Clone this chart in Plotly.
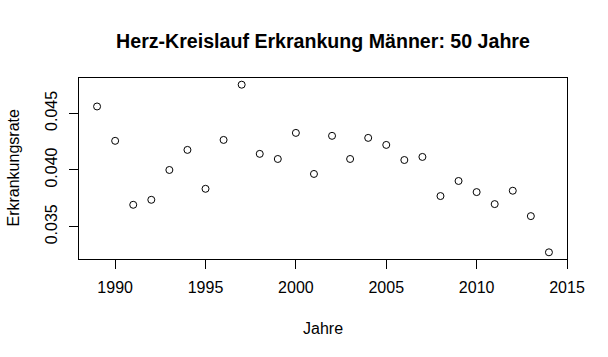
import plotly.graph_objects as go

jahre = list(range(1989, 2015))
rate = [0.0456, 0.04257, 0.03693, 0.03737, 0.0400, 0.04177, 0.03834, 0.04265,
        0.04752, 0.04142, 0.04097, 0.04327, 0.03965, 0.04301, 0.04097, 0.04283,
        0.04221, 0.04088, 0.04115, 0.0377, 0.03903, 0.03805, 0.03699, 0.03817,
        0.03593, 0.03274]
x_ticks = [1990, 1995, 2000, 2005, 2010, 2015]
y_ticks = [0.035, 0.040, 0.045]
y_ticklabels = ["0.035", "0.040", "0.045"]

FONT = "Liberation Sans, Arial, sans-serif"

fig = go.Figure()
fig.add_trace(go.Scatter(
    x=jahre, y=rate, mode="markers",
    marker=dict(symbol="circle-open", size=7, color="black", line=dict(width=1, color="black")),
    showlegend=False, hoverinfo="x+y",
))

ymin, ymax = min(rate), max(rate)
pad = (ymax - ymin) * 0.04

fig.update_layout(
    width=608, height=357,
    margin=dict(l=79, r=41, t=78, b=98),
    paper_bgcolor="white", plot_bgcolor="white",
    font=dict(family=FONT, size=16, color="black"),
    title=dict(text="<b>Herz-Kreislauf Erkrankung Männer: 50 Jahre</b>",
               x=0.5, xref="paper", xanchor="center",
               y=1 - 41 / 357, yref="container", yanchor="middle",
               font=dict(family=FONT, size=19.6, color="black")),
    xaxis=dict(range=[1988, 2015], tickvals=x_ticks, ticks="outside", ticklen=9,
               tickwidth=1, tickcolor="black", showline=True, linecolor="black",
               linewidth=1, mirror=True, showgrid=False, zeroline=False,
               ticklabelstandoff=5,
               tickfont=dict(family=FONT, size=16, color="black")),
    yaxis=dict(range=[ymin - pad, ymax + pad], tickvals=y_ticks, ticktext=y_ticklabels,
               ticks="outside", ticklen=9, tickwidth=1, tickcolor="black",
               showline=True, linecolor="black", linewidth=1, mirror=True,
               showgrid=False, zeroline=False, tickangle=-90,
               ticklabelstandoff=6,
               tickfont=dict(family=FONT, size=16, color="black")),
    annotations=[
        dict(text="Jahre", xref="paper", x=0.5, yref="paper", y=0, yshift=-69,
             xanchor="center", yanchor="middle", showarrow=False,
             font=dict(family=FONT, size=16, color="black")),
        dict(text="Erkrankungsrate", xref="paper", x=0, xshift=-66, yref="paper", y=0.5,
             xanchor="center", yanchor="middle", textangle=-90, showarrow=False,
             font=dict(family=FONT, size=16, color="black")),
    ],
)

fig.write_html("out.html", config={"displayModeBar": False},
               post_script="document.body.style.margin='0';document.body.style.padding='0';")
